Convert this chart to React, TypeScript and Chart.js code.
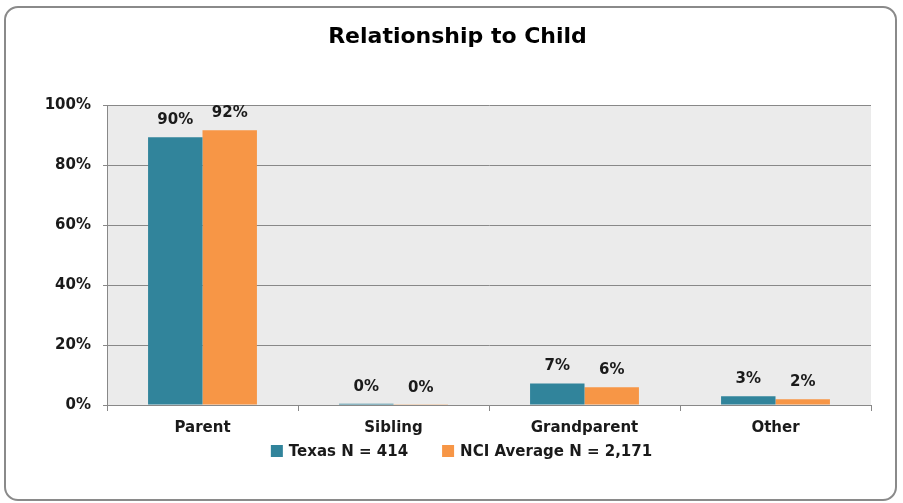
import React, { useEffect, useRef } from "react";
import { Chart, registerables } from "chart.js";

Chart.register(...registerables);

const categories = ["Parent", "Sibling", "Grandparent", "Other"];
const texasValues = [89.4, 0.4, 7.2, 2.9];
const nciValues = [91.7, 0.1, 5.9, 1.9];
const texasLabels = ["90%", "0%", "7%", "3%"];
const nciLabels = ["92%", "0%", "6%", "2%"];
const yTicks = [0, 20, 40, 60, 80, 100];
const seriesNames = ["Texas N = 414", "NCI Average N = 2,171"];
const titleText = "Relationship to Child";

const FONT = '"DejaVu Sans", Verdana, sans-serif';

const plotBackground = {
  id: "plotBackground",
  beforeDraw(chart: any) {
    const { ctx, chartArea } = chart;
    ctx.save();
    ctx.fillStyle = "#ebebeb";
    ctx.fillRect(chartArea.left, chartArea.top, chartArea.right - chartArea.left, chartArea.bottom - chartArea.top);
    ctx.restore();
  },
};

const valueLabels = {
  id: "valueLabels",
  afterDatasetsDraw(chart: any) {
    const ctx = chart.ctx;
    const all = [texasLabels, nciLabels];
    ctx.save();
    ctx.font = `bold 15px ${FONT}`;
    ctx.fillStyle = "#1a1a1a";
    ctx.textAlign = "center";
    ctx.textBaseline = "middle";
    chart.data.datasets.forEach((_ds: any, i: number) => {
      const meta = chart.getDatasetMeta(i);
      meta.data.forEach((bar: any, j: number) => {
        ctx.fillText(all[i][j], bar.x, bar.y - 17);
      });
    });
    ctx.restore();
  },
};

const bottomLegend = {
  id: "bottomLegend",
  afterDraw(chart: any) {
    const ctx = chart.ctx;
    ctx.save();
    ctx.font = `bold 15px ${FONT}`;
    const box = 12;
    const textGap = 6;
    const itemGap = 34;
    const items = chart.data.datasets.map((ds: any) => ({
      text: ds.label,
      color: ds.backgroundColor,
      w: ctx.measureText(ds.label).width,
    }));
    const total =
      items.reduce((s: number, it: any) => s + box + textGap + it.w, 0) + itemGap * (items.length - 1);
    const centerX = chart.width / 2 + 10;
    const cy = chart.chartArea.bottom + 46;
    let x = centerX - total / 2;
    ctx.textAlign = "left";
    ctx.textBaseline = "middle";
    items.forEach((it: any) => {
      ctx.fillStyle = it.color;
      ctx.fillRect(x, cy - box / 2, box, box);
      ctx.fillStyle = "#1a1a1a";
      ctx.fillText(it.text, x + box + textGap, cy + 1);
      x += box + textGap + it.w + itemGap;
    });
    ctx.restore();
  },
};

export default function App() {
  const ref = useRef<HTMLCanvasElement>(null);
  useEffect(() => {
    if (!ref.current) return;
    const chart = new Chart(ref.current, {
      type: "bar",
      data: {
        labels: categories,
        datasets: [
          {
            label: seriesNames[0],
            data: texasValues,
            backgroundColor: "#31849b",
            categoryPercentage: 0.57,
            barPercentage: 1,
          },
          {
            label: seriesNames[1],
            data: nciValues,
            backgroundColor: "#f79646",
            categoryPercentage: 0.57,
            barPercentage: 1,
          },
        ],
      },
      options: {
        responsive: false,
        animation: false,
        layout: { padding: { left: 44, right: 32, top: 0, bottom: 58 } },
        plugins: {
          title: {
            display: true,
            text: titleText,
            color: "#000",
            font: { family: FONT, size: 22, weight: "bold" },
            padding: { top: 24, bottom: 55 },
          },
          legend: { display: false },
          tooltip: { enabled: false },
        },
        scales: {
          x: {
            grid: {
              display: true,
              drawOnChartArea: false,
              drawTicks: true,
              tickLength: 6,
              color: "#888",
              offset: true,
            },
            border: { display: true, color: "#888", width: 1 },
            ticks: {
              color: "#1a1a1a",
              font: { family: FONT, size: 15, weight: "bold" },
              padding: 8,
            },
            afterFit(scale: any) {
              scale.height = 40;
            },
          },
          y: {
            min: 0,
            max: 100,
            grid: { color: "#888", lineWidth: 1, tickLength: 4, drawTicks: true },
            border: { display: true, color: "#888", width: 1 },
            afterBuildTicks(scale: any) {
              scale.ticks = yTicks.map((v) => ({ value: v }));
            },
            ticks: {
              color: "#1a1a1a",
              font: { family: FONT, size: 15, weight: "bold" },
              padding: 12,
              callback: (v: any) => `${v}%`,
            },
            afterFit(scale: any) {
              scale.width = 63;
            },
          },
        },
      },
      plugins: [plotBackground, valueLabels, bottomLegend],
    });
    return () => chart.destroy();
  }, []);

  return (
    <div style={{ position: "fixed", left: 0, top: 0, width: 903, height: 503, background: "#fff" }}>
      <canvas ref={ref} width={903} height={503} style={{ position: "absolute", left: 0, top: 0, width: 903, height: 503 }} />
      <div
        style={{
          position: "absolute",
          left: 4,
          top: 6,
          width: 893,
          height: 495,
          border: "2px solid #8a8a8a",
          borderRadius: 14,
          boxSizing: "border-box",
          pointerEvents: "none",
        }}
      />
    </div>
  );
}
